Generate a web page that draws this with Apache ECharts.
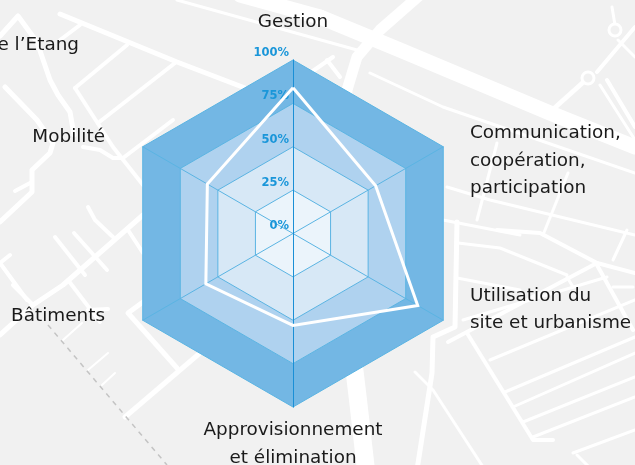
<!DOCTYPE html>
<html>
<head>
<meta charset="utf-8">
<title>Radar</title>
<style>
	html, body { margin: 0; padding: 0; background: #f1f1f1; }
	#chart { width: 635px; height: 465px; }
</style>
<script src="https://cdn.jsdelivr.net/npm/echarts@6/dist/echarts.min.js"></script>
</head>
<body>
<div id="chart"></div>
<script>
	// categories in the order the radar lays them out, counter-clockwise from the top
	var categories = ['Gestion', 'Mobilité', 'Bâtiments', 'Approvisionnement\net élimination', 'Utilisation du\nsite et urbanisme', 'Communication,\ncoopération,\nparticipation'];
	var scores = [84, 57, 58, 53, 83, 55];
	var ringColors = ['#ebf4fb', '#d7e8f6', '#afd2ef', '#73b7e4'];
	var cutLabel = 'e l’Etang';

	// where each category name sits, same order as categories
	var nameLayout = [
		{ x: 293, y: 22, align: 'center' },
		{ x: 105, y: 137, align: 'right' },
		{ x: 105, y: 316, align: 'right' },
		{ x: 293, y: 444, align: 'center' },
		{ x: 470, y: 309.5, align: 'left' },
		{ x: 470, y: 161, align: 'left' }
	];

	// street map behind the chart: [width, x0, y0, x1, y1, ...]
	var streets = [
		[15, 320, 17, 400, 50, 550, 113, 635, 147],
		[15, 240, -5, 320, 17],
		[3, 177, 0, 357, 50],
		[3, 370, 73, 443, 107, 635, 173],
		[11, 420, -5, 380, 30, 357, 57, 347, 90, 345, 140],
		[18, 352, 350, 358, 400, 366, 470],
		[5, 60, 14, 177, 62, 245, 88],
		[4, 80, 25, 60, 40],
		[4, 127, 45, 75, 88],
		[4, 175, 63, 98, 123],
		[5, 0, 36, 18, 16, 37, 42, 50, 80, 58, 95, 70, 112, 74, 135],
		[5, 5, 87, 37, 120, 53, 143, 50, 153, 32, 170, 32, 192, 0, 222],
		[4, 32, 182, 15, 191],
		[4, 83, 147, 100, 150, 113, 158, 123, 158, 173, 120],
		[4, 75, 88, 113, 147, 143, 185],
		[4, 55, 237, 85, 275],
		[4, 74, 233, 107, 270],
		[4, 88, 207, 95, 220, 113, 237],
		[5, 143, 215, 63, 285, 33, 305, 0, 335],
		[4, 128, 230, 143, 253],
		[4, 68, 280, 100, 322],
		[4, 10, 255, 0, 263, 27, 300],
		[4, 13, 285, 33, 305],
		[4, 88, 310, 108, 309],
		[2, 63, 340, 82, 323],
		[2, 88, 370, 108, 353],
		[2, 102, 385, 115, 373],
		[5, 125, 417, 200, 353],
		[5, 177, 368, 128, 313, 143, 302],
		[4, 327, 60, 340, 77],
		[4, 310, 73, 333, 57],
		[5, 588, 78, 550, 112],
		[4, 597, 72, 635, 27],
		[4, 607, 80, 635, 127],
		[3, 600, 85, 635, 140],
		[3, 612, 7, 615, 25],
		[3, 618, 40, 635, 57],
		[3, 447, 187, 490, 200, 635, 235],
		[3, 497, 143, 477, 220],
		[3, 568, 173, 543, 235],
		[3, 443, 220, 520, 235],
		[4, 497, 230, 540, 233, 597, 263, 635, 273],
		[3, 627, 230, 613, 260],
		[3, 458, 243, 500, 248, 567, 275],
		[5, 457, 222, 455, 327, 433, 337, 432, 373, 417, 470],
		[3, 415, 372, 433, 390, 485, 470],
		[4, 448, 342, 597, 263],
		[3, 457, 278, 520, 290],
		[4, 467, 333, 533, 440, 553, 440],
		[4, 597, 265, 633, 330],
		[3, 490, 360, 635, 300],
		[3, 505, 392, 635, 337],
		[3, 513, 407, 635, 353],
		[3, 523, 422, 635, 377],
		[3, 533, 437, 635, 397],
		[3, 573, 453, 635, 430],
		[3, 577, 455, 590, 468],
		[3, 567, 277, 573, 287],
		[3, 463, 320, 607, 277],
		[3, 613, 287, 633, 287]
	];
	// the two small roundabouts top right: [x, y, r]
	var roundabouts = [[615, 30, 6], [588, 78, 6]];

	function toPoints(list) {
		var points = [];
		for (var i = 1; i < list.length; i += 2) {
			points.push([list[i], list[i + 1]]);
		}
		return points;
	}

	var graphicList = [];
	streets.forEach(function(street) {
		graphicList.push({
			type: 'polyline',
			silent: true,
			z: -10,
			shape: { points: toPoints(street) },
			style: { stroke: '#fff', lineWidth: street[0], fill: null, lineCap: 'round', lineJoin: 'round' }
		});
	});
	roundabouts.forEach(function(r) {
		graphicList.push({
			type: 'circle',
			silent: true,
			z: -10,
			shape: { cx: r[0], cy: r[1], r: r[2] },
			style: { stroke: '#fff', lineWidth: 3, fill: '#f1f1f1' }
		});
	});
	// railway
	graphicList.push({
		type: 'polyline',
		silent: true,
		z: -9,
		shape: { points: [[48, 325], [167, 465]] },
		style: { stroke: '#c4c4c4', lineWidth: 1.5, fill: null, lineDash: [5, 5] }
	});

	var nameFont = '18.4px "DejaVu Sans"';
	categories.forEach(function(name, i) {
		graphicList.push({
			type: 'text',
			silent: true,
			x: nameLayout[i].x,
			y: nameLayout[i].y,
			style: { text: name, font: nameFont, fill: '#1a1a1a', align: nameLayout[i].align, verticalAlign: 'middle', lineHeight: 27.5 }
		});
	});
	graphicList.push({
		type: 'text',
		silent: true,
		x: 79,
		y: 45,
		style: { text: cutLabel, font: nameFont, fill: '#1a1a1a', align: 'right', verticalAlign: 'middle' }
	});

	var indicators = categories.map(function(name) {
		return { name: name, min: 0, max: 100 };
	});

	var chart = echarts.init(document.getElementById('chart'));
	chart.setOption({
		animation: false,
		backgroundColor: '#f1f1f1',
		graphic: graphicList,
		radar: [{
			center: [293, 233.5],
			radius: 173.5,
			startAngle: 90,
			splitNumber: 4,
			shape: 'polygon',
			indicator: indicators,
			axisName: { show: false },
			axisLine: { lineStyle: { color: '#5ab4e3', width: 1 } },
			splitLine: { lineStyle: { color: '#5ab4e3', width: 1 } },
			splitArea: { areaStyle: { color: ringColors, opacity: 1 } },
			axisTick: { show: false },
			axisLabel: { show: false }
		}, {
			// only the darker vertical axis
			center: [293, 233.5],
			radius: 173.5,
			startAngle: 90,
			indicator: [{ name: '', max: 100 }, { name: '', max: 100 }],
			axisName: { show: false },
			axisLine: { lineStyle: { color: '#1a8fd6', width: 1 } },
			splitLine: { show: false },
			splitArea: { show: false },
			axisTick: { show: false },
			axisLabel: { show: false }
		}, {
			// one-axis radar, so the percent labels appear on the top axis only
			center: [293, 233.5],
			radius: 173.5,
			startAngle: 90,
			splitNumber: 4,
			indicator: [{ name: '', min: 0, max: 100 }],
			axisName: { show: false },
			axisLine: { show: false },
			splitLine: { show: false },
			splitArea: { show: false },
			axisTick: { show: false },
			axisLabel: {
				show: true,
				margin: 4,
				color: '#1a96d9',
				fontFamily: 'DejaVu Sans',
				fontWeight: 'bold',
				fontSize: 11.5,
				verticalAlign: 'bottom',
				padding: [0, 0, 1, 0],
				formatter: '{value}%'
			}
		}],
		series: [{
			type: 'radar',
			radarIndex: 0,
			symbol: 'none',
			silent: true,
			lineStyle: { color: '#fff', width: 3, join: 'miter' },
			data: [{ value: scores }]
		}]
	});
</script>
</body>
</html>
